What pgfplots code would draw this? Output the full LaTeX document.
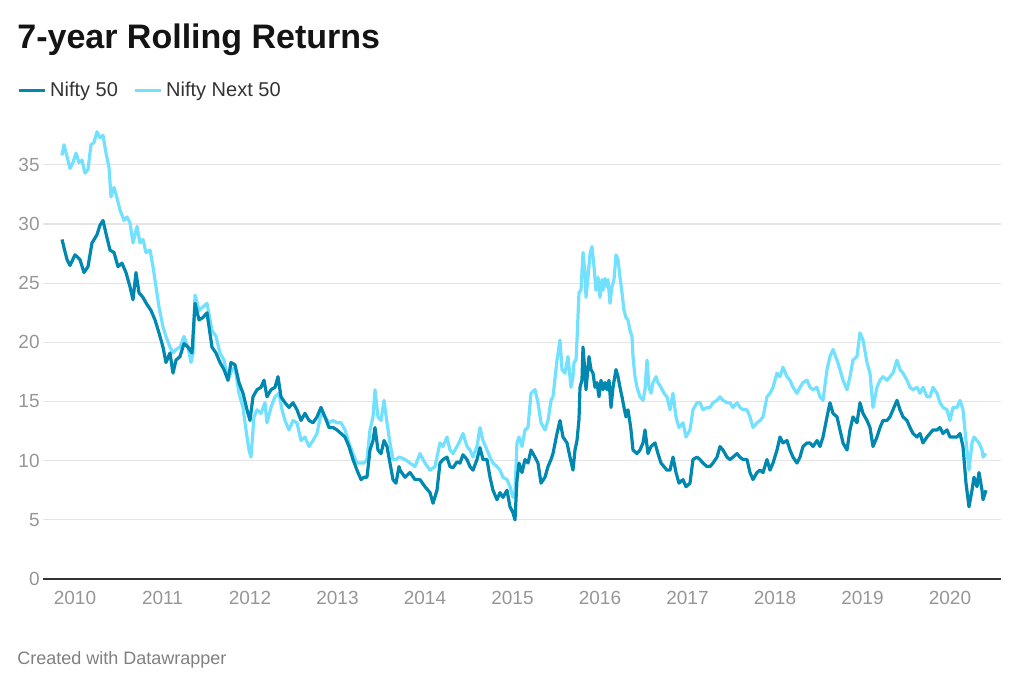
\documentclass[border=0pt]{standalone}
\usepackage{pgfplots}
\pgfplotsset{compat=1.18}
\usepackage{pgfplotstable}
\usepackage{fontspec}
\setmainfont{Liberation Sans}
\definecolor{darkline}{RGB}{0,136,176}
\definecolor{lightline}{RGB}{114,225,255}
\definecolor{tickgray}{RGB}{150,150,150}
\definecolor{gridgray}{RGB}{229,229,229}

% column 1: horizontal position (chart pixels, 2010 at 75, 87.5 per year), column 2: return (%)
\pgfplotstableread{
px val
62 28.7
64 28.0
67 27.0
70 26.5
75 27.4
80 27.0
84 25.9
88 26.4
92 28.4
97 29.1
100 29.9
103 30.3
106 29.2
110 27.8
114 27.6
118 26.4
122 26.7
126 25.9
130 24.7
133 23.6
136 25.9
139 24.2
143 23.8
147 23.2
151 22.7
155 21.9
159 20.8
163 19.6
166 18.3
170 19.1
173 17.4
176 18.5
180 18.8
184 19.9
188 19.6
192 19.1
195 23.3
199 21.9
203 22.1
207 22.5
212 19.6
216 19.1
220 18.3
224 17.7
228 16.8
231 18.3
235 18.1
239 16.6
243 15.7
247 14.3
250 13.4
253 15.4
257 16.0
261 16.2
264 16.8
267 15.4
271 16.0
275 16.2
278 17.1
281 15.4
285 14.9
289 14.5
293 14.9
297 14.3
301 13.4
305 14.0
309 13.4
313 13.2
317 13.7
321 14.5
325 13.7
329 12.8
333 12.8
337 12.6
341 12.3
345 12.0
349 11.2
353 10.1
357 9.2
361 8.4
364 8.6
367 8.6
370 10.9
373 11.7
375 12.8
378 10.9
381 10.6
384 11.7
387 11.2
390 9.8
393 8.4
396 8.1
399 9.5
400 9.2
405 8.6
410 9.0
415 8.4
420 8.4
425 7.8
430 7.3
433 6.4
437 7.5
440 9.8
443 10.1
447 10.3
450 9.5
453 9.4
457 9.9
460 9.8
463 10.5
467 10.1
470 9.5
473 9.2
477 10.1
480 11.1
483 10.1
487 10.1
490 8.6
493 7.5
497 6.7
500 7.3
503 6.9
507 7.5
510 6.1
513 5.6
515 5.0
517 8.4
519 9.8
522 9.0
525 10.1
528 9.8
531 10.9
535 10.3
538 9.8
541 8.1
545 8.6
548 9.5
551 10.1
553 10.6
557 12.3
560 13.4
563 12.0
567 11.5
570 10.3
573 9.2
575 10.9
577 11.7
579 13.5
580 16.2
582 16.8
583 19.6
585 17.4
586 16.0
589 18.8
591 17.7
593 17.4
595 16.2
597 16.6
599 15.4
601 16.8
603 16.0
605 16.6
607 16.0
609 16.8
611 14.5
613 16.2
616 17.7
618 17.1
620 16.2
622 15.4
624 14.5
626 13.7
628 14.3
630 13.2
631 12.6
633 10.9
637 10.6
640 10.9
643 11.5
645 12.6
648 10.6
651 11.2
655 11.5
658 10.6
661 9.8
664 9.5
667 9.2
670 9.2
673 10.3
676 9.0
679 8.1
683 8.4
686 7.8
690 8.1
693 10.1
697 10.3
700 10.1
703 9.8
707 9.5
710 9.5
713 9.8
717 10.3
720 11.2
723 10.9
727 10.3
730 10.1
733 10.3
737 10.6
740 10.3
743 10.1
747 10.1
750 9.0
753 8.4
757 9.0
760 9.2
763 9.0
767 10.1
770 9.2
773 9.8
777 10.9
780 12.0
783 11.5
787 11.7
790 10.9
793 10.3
797 9.8
800 10.3
803 11.2
807 11.5
810 11.5
813 11.2
817 11.7
820 11.2
823 12.0
827 13.7
830 14.9
833 14.0
837 13.7
840 12.6
843 11.5
847 10.9
850 12.6
853 13.7
857 13.2
860 14.9
863 14.0
867 13.4
870 12.8
873 11.2
877 12.0
880 12.8
883 13.4
887 13.4
890 13.7
893 14.3
897 15.1
900 14.3
903 13.7
907 13.4
910 12.8
913 12.3
917 12.0
920 12.3
923 11.5
927 12.0
930 12.3
933 12.6
937 12.6
940 12.8
943 12.3
947 12.6
950 12.0
953 12.0
957 12.0
960 12.3
963 11.2
966 8.1
969 6.1
972 7.5
974 8.6
977 7.8
979 9.0
982 7.5
983 6.7
986 7.5
}\niftyfifty

\pgfplotstableread{
px val
62 35.8
64 36.7
67 35.7
70 34.7
73 35.2
76 36.0
79 35.2
82 35.4
85 34.3
88 34.6
91 36.7
94 36.9
97 37.8
100 37.3
103 37.5
106 36.0
109 34.8
111 32.3
114 33.1
117 32.2
120 31.2
124 30.3
127 30.6
130 30.1
133 28.4
137 29.8
140 28.4
143 28.7
146 27.6
150 27.8
153 26.4
156 24.7
159 23.0
163 21.3
166 20.5
170 19.6
173 19.1
176 19.4
180 19.6
184 20.5
188 19.6
191 18.3
193 19.1
195 24.0
199 22.7
203 23.0
207 23.3
212 21.0
216 20.5
220 19.1
224 18.5
228 16.8
232 17.7
235 17.9
239 15.7
243 14.5
246 12.6
249 10.9
251 10.3
254 13.7
257 14.3
261 14.0
265 14.9
267 13.2
271 14.5
275 15.4
279 15.7
282 14.3
285 13.4
289 12.6
293 13.4
297 13.2
301 11.7
305 12.0
309 11.2
313 11.7
317 12.3
321 14.0
325 13.7
329 13.2
333 13.4
337 13.2
341 13.2
345 12.6
349 11.5
353 10.6
357 9.8
361 9.8
364 9.8
367 10.1
370 12.6
373 13.7
375 16.0
378 13.7
381 13.4
384 15.1
387 13.2
390 11.5
393 10.1
396 10.1
399 10.3
400 10.3
405 10.1
410 9.8
415 9.5
420 10.6
425 9.8
430 9.2
435 9.5
440 11.5
443 11.2
447 12.0
450 10.9
453 10.6
457 11.2
460 11.7
463 12.3
467 11.2
470 10.9
473 10.3
477 11.2
480 12.8
483 11.7
487 10.9
490 10.3
493 9.8
497 9.5
500 9.2
503 8.6
507 8.4
510 7.8
513 6.9
515 7.3
517 11.5
519 12.0
522 11.2
525 12.6
528 12.8
531 15.7
535 16.0
538 14.9
541 13.2
545 12.6
548 13.4
551 15.1
553 15.4
557 18.5
560 20.2
562 17.7
565 17.4
568 18.8
571 16.2
573 17.1
574 18.3
576 18.5
577 20.2
579 24.2
581 24.4
583 27.6
585 25.9
586 23.8
588 25.5
590 27.5
592 28.1
594 26.4
596 24.4
598 25.5
600 23.8
602 25.3
603 24.4
605 25.4
607 24.7
608 25.3
610 23.3
612 24.7
614 25.3
616 27.4
618 27.0
620 25.5
622 24.2
624 22.7
626 22.1
628 21.9
630 21.0
632 20.5
633 18.8
635 17.1
637 16.2
640 15.4
643 15.1
645 16.0
647 18.5
649 16.2
651 15.7
653 16.6
656 17.1
658 16.6
661 16.2
664 15.7
667 15.4
670 14.3
673 15.7
676 13.7
679 12.8
683 13.2
686 12.0
690 12.6
693 14.3
697 14.9
700 14.9
703 14.3
707 14.5
710 14.5
713 14.9
717 15.1
720 15.4
723 15.1
727 14.9
730 14.9
733 14.5
737 14.9
740 14.5
743 14.3
747 14.3
750 13.7
753 12.8
757 13.2
760 13.4
763 13.7
767 15.4
770 15.7
773 16.2
777 17.4
780 17.1
783 17.9
787 17.1
790 16.8
793 16.2
797 15.7
800 16.2
803 16.6
807 16.8
810 16.2
813 16.0
817 16.2
820 15.4
823 15.1
827 17.7
830 18.8
833 19.4
837 18.5
840 17.7
843 16.8
847 16.0
850 17.1
853 18.5
857 18.8
860 20.8
863 20.2
867 18.3
870 17.4
873 14.5
877 16.2
880 16.8
883 17.1
887 16.8
890 17.1
893 17.4
897 18.5
900 17.7
903 17.4
907 16.8
910 16.2
913 16.0
917 16.2
920 15.7
923 16.2
927 15.4
930 15.4
933 16.2
937 15.7
940 14.9
943 14.5
947 14.3
950 13.4
953 14.5
957 14.5
960 15.1
963 14.3
966 11.7
969 9.2
972 11.5
974 12.0
977 11.7
979 11.5
982 10.9
983 10.3
986 10.6
}\niftynext

\begin{document}
\begin{tikzpicture}
\useasboundingbox (-21.5pt,-57.5pt) rectangle (490.5pt,289.5pt);
\begin{axis}[
  at={(0pt,0pt)}, anchor=south west,
  scale only axis,
  width=479pt, height=227.75pt,
  xmin=2009.6343, xmax=2020.5829,
  ymin=0, ymax=38.5,
  axis x line*=bottom, axis y line*=left,
  y axis line style={draw=none},
  x axis line style={-, draw=black!80, line width=1pt},
  major tick length=0pt,
  xtick={2010,2011,2012,2013,2014,2015,2016,2017,2018,2019,2020},
  xticklabels={2010,2011,2012,2013,2014,2015,2016,2017,2018,2019,2020},
  ytick={0,5,10,15,20,25,30,35},
  yticklabels={0,5,10,15,20,25,30,35},
  xticklabel style={font=\fontsize{9.5}{11}\selectfont, text=tickgray, inner sep=0pt, yshift=-6pt},
  yticklabel style={font=\fontsize{9.5}{11}\selectfont, text=tickgray, inner sep=0pt, xshift=-1.5pt},
  ymajorgrids,
  major grid style={draw=gridgray, line width=0.6pt},
  legend style={at={(rel axis cs:-0.02714,1.0725)}, anchor=west, draw=none, fill=none,
    inner sep=0pt, outer sep=0pt, font=\fontsize{10}{12}\selectfont, text=black!80,
    legend columns=2,
    nodes={inner sep=0pt},
    /tikz/every odd column/.append style={column sep=2pt},
    /tikz/every even column/.append style={column sep=7.5pt}},
  legend cell align=left,
  legend image code/.code={\draw[#1, line width=1.6pt] (0pt,0pt) -- (13pt,0pt);},
  line join=round,
]
\addlegendimage{darkline}
\addlegendentry{Nifty 50}
\addlegendimage{lightline}
\addlegendentry{Nifty Next 50}
\addplot[lightline, line width=1.6pt, forget plot] table[x expr=2010+(\thisrowno{0}-75)/87.5, y index=1] {\niftynext};
\addplot[darkline, line width=1.6pt, forget plot] table[x expr=2010+(\thisrowno{0}-75)/87.5, y index=1] {\niftyfifty};
\end{axis}
\node[anchor=base west, inner sep=0pt, font=\fontsize{17}{20}\selectfont\bfseries, text=black!92] at (-13pt,265pt) {7-year Rolling Returns};
\node[anchor=base west, inner sep=0pt, font=\fontsize{9}{11}\selectfont, text=black!50] at (-13pt,-43pt) {Created with Datawrapper};
\end{tikzpicture}
\end{document}
